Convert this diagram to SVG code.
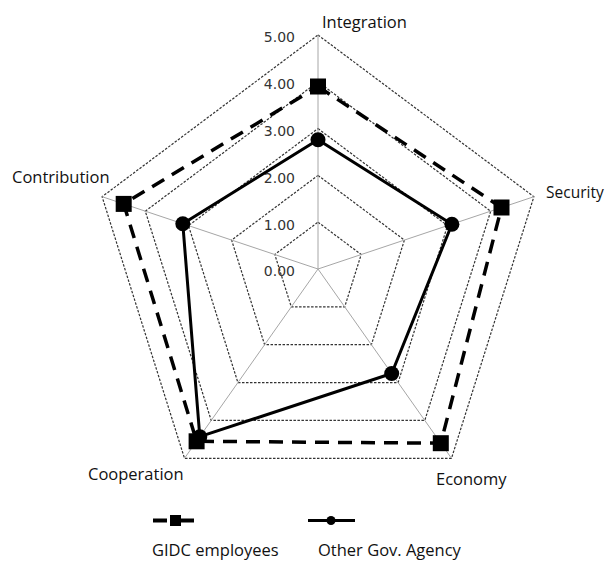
<svg xmlns="http://www.w3.org/2000/svg" width="606" height="562" viewBox="0 0 606 562">
  <style>
    .bg { fill: #ffffff; }
    .grid { fill: none; stroke: #333333; stroke-width: 1.2; stroke-dasharray: 2.5 1.5; }
    .spoke { stroke: #a6a6a6; stroke-width: 1; }
    .tick { font-family: "DejaVu Sans", Verdana, sans-serif; font-size: 14px; fill: #333333; text-anchor: end; }
    .axis { font-family: "Open Sans", "Noto Sans", sans-serif; font-size: 16.5px; fill: #111111; }
    .gidc { fill: none; stroke: #000000; stroke-width: 3.5; stroke-dasharray: 14 9; stroke-linejoin: miter; }
    .other { fill: none; stroke: #000000; stroke-width: 3; stroke-linejoin: round; }
    .sq { fill: #000000; }
    .dot { fill: #000000; }
  </style>

  <rect class="bg" x="0" y="0" width="606" height="562"/>

  <!-- radar grid: levels 1..5 around centre (318,269) -->
  <g id="grid">
    <polygon class="grid" points="318,222.2 361.2,254.5 344.7,306.9 291.3,306.9 274.8,254.5"/>
    <polygon class="grid" points="318,175.4 404.4,240.1 371.4,344.7 264.6,344.7 231.6,240.1"/>
    <polygon class="grid" points="318,128.6 447.5,225.6 398.1,382.6 237.9,382.6 188.5,225.6"/>
    <polygon class="grid" points="318,81.8 490.7,211.2 424.8,420.4 211.2,420.4 145.3,211.2"/>
    <polygon class="grid" points="318,35 533.9,196.7 451.5,458.3 184.5,458.3 102.1,196.7"/>
    <line class="spoke" x1="318" y1="269" x2="318" y2="35"/>
    <line class="spoke" x1="318" y1="269" x2="533.9" y2="196.7"/>
    <line class="spoke" x1="318" y1="269" x2="451.5" y2="458.3"/>
    <line class="spoke" x1="318" y1="269" x2="184.5" y2="458.3"/>
    <line class="spoke" x1="318" y1="269" x2="102.1" y2="196.7"/>
  </g>

  <!-- scale values -->
  <g id="scale">
    <text class="tick" x="295" y="276">0.00</text>
    <text class="tick" x="295" y="229.5">1.00</text>
    <text class="tick" x="295" y="183">2.00</text>
    <text class="tick" x="295" y="136">3.00</text>
    <text class="tick" x="295" y="89">4.00</text>
    <text class="tick" x="295" y="42">5.00</text>
  </g>

  <!-- axis names -->
  <g id="axis-integration"><text class="axis" x="322" y="28">Integration</text></g>
  <g id="axis-security"><text class="axis" x="546" y="198" style="font-size:15.5px">Security</text></g>
  <g id="axis-economy"><text class="axis" x="436" y="485">Economy</text></g>
  <g id="axis-cooperation"><text class="axis" x="88" y="480">Cooperation</text></g>
  <g id="axis-contribution"><text class="axis" x="12" y="183">Contribution</text></g>

  <!-- data series -->
  <g id="connectors">
    <polygon id="series-gidc-line" class="gidc" points="318,86.5 501.5,207.5 440.8,443.2 196.6,441.3 123.7,203.9"/>
    <polygon id="series-other-line" class="other" points="318,139.8 451.9,224.2 391.7,373.5 199.8,436.7 182.8,223.7"/>
  </g>

  <g id="series-gidc">
    <rect class="sq" x="310" y="78.5" width="16" height="16"/>
    <rect class="sq" x="493.5" y="199.5" width="16" height="16"/>
    <rect class="sq" x="432.8" y="435.2" width="16" height="16"/>
    <rect class="sq" x="188.6" y="433.3" width="16" height="16"/>
    <rect class="sq" x="115.7" y="195.9" width="16" height="16"/>
  </g>

  <g id="series-other">
    <circle class="dot" cx="318" cy="139.8" r="7.5"/>
    <circle class="dot" cx="451.9" cy="224.2" r="7.5"/>
    <circle class="dot" cx="391.7" cy="373.5" r="7.5"/>
    <circle class="dot" cx="199.8" cy="436.7" r="7.5"/>
    <circle class="dot" cx="182.8" cy="223.7" r="7.5"/>
  </g>

  <!-- legend -->
  <g id="legend-gidc">
    <line x1="153" y1="520.5" x2="167" y2="520.5" stroke="#000" stroke-width="4"/>
    <rect class="sq" x="170" y="515" width="11" height="11"/>
    <line x1="181" y1="520.5" x2="194" y2="520.5" stroke="#000" stroke-width="4"/>
    <text class="axis" x="152" y="556">GIDC employees</text>
  </g>
  <g id="legend-other">
    <line x1="308" y1="520.5" x2="355" y2="520.5" stroke="#000" stroke-width="3"/>
    <circle class="dot" cx="331" cy="520.5" r="4.5"/>
    <text class="axis" x="318" y="556">Other Gov. Agency</text>
  </g>
</svg>
